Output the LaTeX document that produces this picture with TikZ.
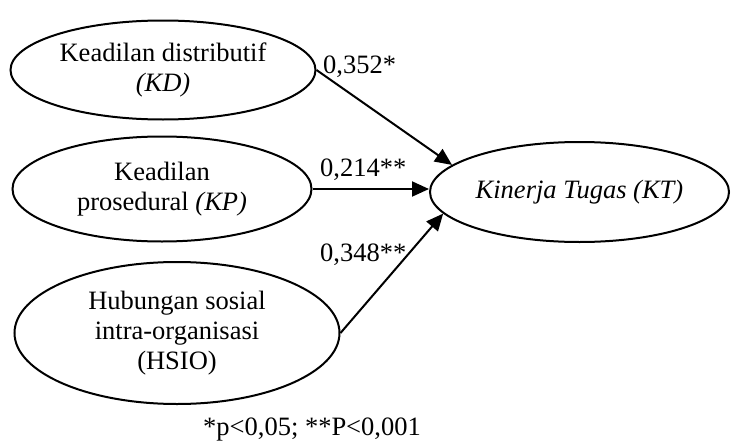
\documentclass[tikz,border=0pt]{standalone}
\usepackage{fontspec}
\setmainfont{Liberation Serif}
\usetikzlibrary{shapes.geometric,arrows.meta}
\tikzset{
  construct/.style={draw, ellipse, line width=2pt, inner sep=0pt, align=center,
    font=\fontsize{26.5}{30}\selectfont},
  path/.style={line width=2pt, -{Triangle[length=17pt,width=15pt]}},
  coef/.style={anchor=base west, inner sep=0pt, font=\fontsize{26.5}{30}\selectfont},
}
\begin{document}
\begin{tikzpicture}[x=1pt,y=-1pt]
\useasboundingbox (0,0) rectangle (731,447);
\node[construct, minimum width=305pt, minimum height=99pt] (KD) at (163,70)
  {Keadilan distributif\\\textit{(KD)}};
\node[construct, minimum width=299pt, minimum height=105pt] (KP) at (162,189)
  {Keadilan\\prosedural \textit{(KP)}};
\node[construct, minimum width=325pt, minimum height=142pt] (HSIO) at (177,333)
  {Hubungan sosial\\intra-organisasi\\(HSIO)};
\node[construct, minimum width=299pt, minimum height=100pt] (KT) at (579.5,192)
  {\textit{Kinerja Tugas (KT)}};
\draw[path] (KD.east) -- (KT.168);
\draw[path] (KP.east) -- (KT.west |- KP.east);
\draw[path] (HSIO.east) -- (KT.189);
\node[coef] (c1) at (323,73) {0,352*};
\node[coef] (c2) at (320,176.5) {0,214**};
\node[coef] (c3) at (320,261.5) {0,348**};
\node[coef] (note) at (203,435) {*p<0,05; **P<0,001};
\end{tikzpicture}
\end{document}
